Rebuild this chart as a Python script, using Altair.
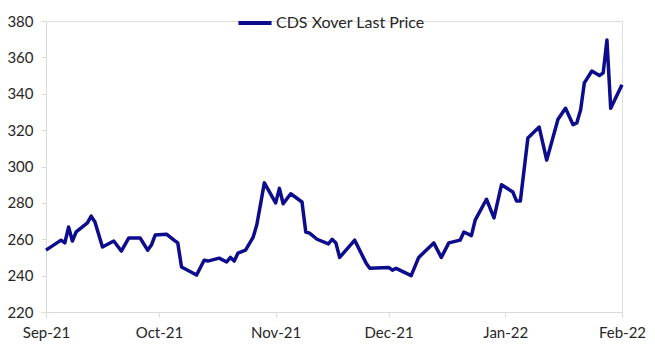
import altair as alt
import pandas as pd

series_name = "CDS Xover Last Price"

dates = [
    "2021-09-01", "2021-09-05", "2021-09-06", "2021-09-07", "2021-09-08", "2021-09-09",
    "2021-09-12", "2021-09-13", "2021-09-14", "2021-09-16", "2021-09-19", "2021-09-21",
    "2021-09-23", "2021-09-26", "2021-09-28", "2021-09-29", "2021-09-30",
    "2021-10-03", "2021-10-05", "2021-10-06", "2021-10-07", "2021-10-11", "2021-10-13",
    "2021-10-14", "2021-10-17", "2021-10-19", "2021-10-20", "2021-10-21", "2021-10-22",
    "2021-10-24", "2021-10-26", "2021-10-27", "2021-10-29",
    "2021-11-01", "2021-11-02", "2021-11-03", "2021-11-05", "2021-11-08", "2021-11-09",
    "2021-11-10", "2021-11-12", "2021-11-15", "2021-11-16", "2021-11-17", "2021-11-18",
    "2021-11-22", "2021-11-25", "2021-11-26",
    "2021-12-01", "2021-12-02", "2021-12-03", "2021-12-07", "2021-12-09", "2021-12-13",
    "2021-12-15", "2021-12-17", "2021-12-20", "2021-12-21", "2021-12-23", "2021-12-24",
    "2021-12-27", "2021-12-29", "2021-12-31",
    "2022-01-03", "2022-01-04", "2022-01-05", "2022-01-07", "2022-01-10", "2022-01-12",
    "2022-01-15", "2022-01-17", "2022-01-19", "2022-01-20", "2022-01-21", "2022-01-22",
    "2022-01-24", "2022-01-26", "2022-01-27", "2022-01-28", "2022-01-29",
    "2022-02-01",
]

prices = [
    254, 259.5, 258, 266.7, 259, 264,
    269, 272.7, 269.5, 255.7, 259, 253.5,
    260.7, 260.7, 254, 256.8, 262.3,
    262.8, 259.5, 258, 244.7, 240.3, 248.5,
    248, 249.6, 247.5, 250, 248, 252.4,
    254, 261, 268, 291,
    280, 288, 279.5, 285, 280.5, 264,
    263.4, 260, 257.4, 260, 258, 250,
    259.5, 247, 244,
    244.5, 243, 244, 240, 250, 258,
    250, 258, 259.5, 264, 262, 270.5,
    282, 271.7, 290,
    286, 281, 281, 315.7, 321.7, 303.5,
    326, 332, 323, 324, 331, 346,
    352.5, 350, 351.5, 369.5, 332,
    345,
]

x_domain = ["2021-09-01", "2022-02-01"]
y_ticks = [220, 240, 260, 280, 300, 320, 340, 360, 380]

df = pd.DataFrame({"date": dates, "price": prices, "series": series_name})

axis_common = dict(
    grid=False,
    domainColor="#d9d9d9",
    domainWidth=1,
    tickColor="#d9d9d9",
    tickSize=5,
    labelFont="Lato",
    labelFontSize=15,
    labelColor="#262626",
    title=None,
)

chart = (
    alt.Chart(df)
    .mark_line(strokeWidth=3.5, strokeJoin="round")
    .encode(
        x=alt.X(
            "date:T",
            scale=alt.Scale(type="utc", domain=x_domain),
            axis=alt.Axis(
                format="%b-%y",
                tickCount={"interval": "month", "step": 1},
                labelPadding=8,
                labelFlush=False,
                **axis_common,
            ),
        ),
        y=alt.Y(
            "price:Q",
            scale=alt.Scale(domain=[220, 380], nice=False, zero=False),
            axis=alt.Axis(values=y_ticks, labelPadding=8, **axis_common),
        ),
        color=alt.Color(
            "series:N",
            scale=alt.Scale(domain=[series_name], range=["#0c0c8c"]),
            legend=alt.Legend(
                title=None,
                orient="none",
                legendX=190,
                legendY=-17,
                symbolType="stroke",
                symbolSize=1100,
                symbolStrokeWidth=4,
                labelFont="Lato",
                labelFontSize=16,
                labelColor="#262626",
                labelOffset=2,
            ),
        ),
    )
    .properties(
        width=576,
        height=291,
        autosize=alt.AutoSizeParams(type="none"),
        padding={"left": 46, "top": 21, "right": 33, "bottom": 39},
    )
    .configure_view(stroke=None)
    .configure(background="white")
)

chart.save("out.html", embed_options={"renderer": "svg", "actions": False})
